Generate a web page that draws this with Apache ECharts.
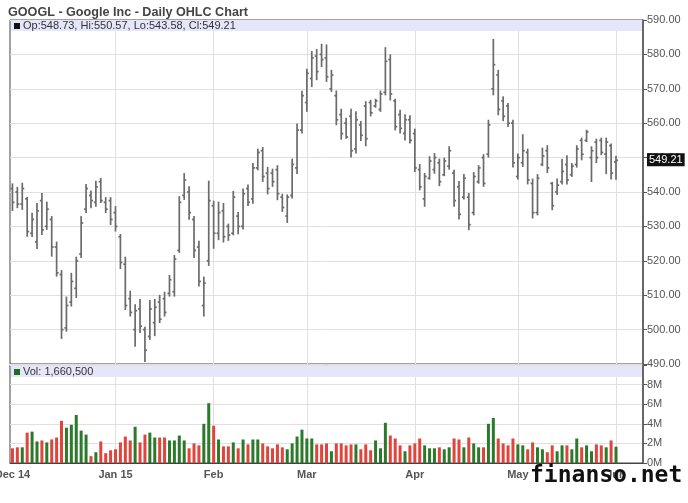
<!DOCTYPE html>
<html>
<head>
<meta charset="utf-8">
<script src="https://cdn.jsdelivr.net/npm/echarts@6/dist/echarts.min.js"></script>
<style>
  html, body { margin: 0; padding: 0; background: #fff; }
  #chart { width: 688px; height: 503px; }
</style>
</head>
<body>
<div id="chart"></div>
<script>
// trading days shown on the chart (Dec 2014 .. Jun 2015)
const decDays = [2,3,4,5,8,9,10,11,12,15,16,17,18,19,22,23,24,26,29,30,31];
const janDays = [2,5,6,7,8,9,12,13,14,15,16,20,21,22,23,26,27,28,29,30];
const febDays = [2,3,4,5,6,9,10,11,12,13,17,18,19,20,23,24,25,26,27];
const marDays = [2,3,4,5,6,9,10,11,12,13,16,17,18,19,20,23,24,25,26,27,30,31];
const aprDays = [1,2,6,7,8,9,10,13,14,15,16,17,20,21,22,23,24,27,28,29,30];
const mayDays = [1,4,5,6,7,8,11,12,13,14,15,18,19,20,21,22,26,27,28,29];
const junDays = [1];
const monthLabels = ['Dec 14', 'Jan 15', 'Feb', 'Mar', 'Apr', 'May', 'Jun'];

const opens = [
  541.0,540.0,536.5,538.0,528.0,525.5,537.5,530.0,532.0,524.0,
  516.0,500.5,508.0,512.0,522.0,535.0,539.0,537.0,543.0,537.0,
  537.5,534.0,527.0,519.0,509.0,500.0,506.0,500.0,498.0,502.0,
  508.0,509.0,510.5,511.0,523.0,539.0,540.0,532.0,524.0,507.0,
  520.0,536.0,528.0,534.5,530.0,528.0,533.0,530.0,541.0,538.0,
  547.0,552.0,545.5,545.5,546.5,538.5,533.0,539.0,547.0,558.0,
  566.0,573.0,579.5,580.0,579.0,570.0,568.0,562.5,560.0,562.0,
  552.5,559.5,565.0,566.0,565.0,564.0,569.0,578.5,566.5,562.5,
  557.0,561.0,557.0,546.5,538.0,544.0,546.5,548.5,545.0,547.5,
  545.5,541.5,538.5,538.5,534.0,543.0,550.0,551.0,570.0,574.0,
  566.5,565.0,560.0,544.5,548.5,551.5,542.5,534.0,548.0,552.0,
  542.5,540.0,543.0,548.0,545.0,548.0,555.0,555.0,550.0,554.5,
  555.0,551.0,553.5,548.73
];
const highs = [
  542.5,541.5,542.7,538.6,534.0,536.8,539.7,537.2,533.0,525.6,
  517.3,509.6,516.5,521.2,533.0,542.3,540.4,543.3,544.1,538.5,
  538.5,535.9,527.8,521.2,511.3,507.4,508.9,500.8,508.6,508.9,
  510.1,511.0,515.9,521.7,538.8,545.5,541.7,533.0,525.8,515.4,
  543.3,537.5,537.2,536.8,530.8,540.3,534.2,541.0,542.2,548.4,
  552.6,553.1,547.3,546.8,547.8,539.5,539.3,549.7,559.9,569.4,
  575.8,581.0,581.6,583.1,582.9,575.5,569.5,564.2,561.6,564.2,
  563.5,560.6,566.4,566.8,567.1,569.5,582.1,580.0,567.1,563.9,
  562.6,562.3,558.4,548.1,545.5,550.4,551.3,549.7,550.0,553.3,
  546.5,543.2,545.2,539.7,545.8,547.8,551.0,561.0,584.5,575.5,
  567.8,565.9,561.0,551.2,556.8,552.6,543.9,545.2,552.9,553.6,
  542.9,543.9,549.7,550.7,548.4,553.6,555.8,558.1,553.3,555.5,
  555.8,555.8,554.1,550.57
];
const lows = [
  534.5,535.3,534.8,527.0,526.9,523.4,527.5,529.0,521.2,515.4,
  497.3,499.4,506.7,509.2,520.8,533.9,535.3,535.7,536.8,533.9,
  530.4,528.5,517.6,505.7,503.8,495.0,499.0,490.6,497.0,498.1,
  501.9,503.8,509.6,509.6,522.3,537.7,531.9,520.8,512.5,503.8,
  518.5,523.5,526.0,525.3,525.8,527.4,527.7,529.1,535.9,536.6,
  546.3,542.9,539.3,541.5,537.6,534.2,531.0,538.1,545.2,557.0,
  563.3,570.5,572.5,576.3,572.0,569.1,559.4,555.2,555.5,550.0,
  551.2,554.8,553.3,562.0,564.5,563.3,568.1,566.6,557.9,557.0,
  555.0,554.1,545.8,540.5,535.7,543.6,545.3,541.7,544.6,546.5,
  535.7,532.0,537.8,528.9,533.2,542.4,541.5,550.0,568.1,562.3,
  560.6,558.9,547.1,543.6,547.3,542.2,532.3,533.2,547.5,545.5,
  534.7,539.1,542.2,542.2,544.4,547.1,549.2,554.5,542.9,548.4,
  550.7,545.2,543.6,543.58
];
const closes = [
  537.0,536.5,541.0,528.5,532.0,534.5,529.0,535.0,524.0,516.5,
  500.0,507.0,514.0,520.0,531.0,541.0,537.5,541.5,537.5,535.0,
  532.0,530.0,519.5,507.0,505.0,505.5,501.0,494.0,506.0,506.5,
  503.0,505.0,514.5,520.5,537.0,543.5,534.0,523.0,514.0,513.5,
  537.5,528.0,534.0,527.0,527.5,538.5,530.0,539.5,537.0,547.0,
  551.5,544.5,541.0,543.0,539.5,535.5,538.5,548.0,558.0,568.0,
  574.5,579.0,575.0,578.5,573.5,574.0,561.0,557.0,556.0,552.0,
  561.0,556.5,555.5,563.0,566.5,568.5,578.0,568.5,559.0,558.5,
  561.0,555.0,547.0,541.5,544.5,549.0,550.0,543.0,549.0,552.0,
  537.5,533.5,544.0,530.5,544.5,547.0,542.5,559.5,577.0,564.0,
  562.0,560.0,548.5,550.0,552.0,543.5,534.0,544.0,550.5,547.0,
  536.0,542.0,546.0,543.5,547.5,552.5,551.0,557.5,552.0,550.0,
  551.5,554.5,545.5,549.21
];
// volume in millions of shares
const volumes = [
  1.5,1.6,1.6,3.1,3.2,2.2,2.3,2.1,2.4,2.6,
  4.3,3.6,3.9,4.9,3.3,2.9,0.7,1.1,2.2,1.0,
  1.3,1.4,2.1,2.7,2.3,3.7,2.1,2.9,3.1,2.6,
  2.6,2.6,2.3,2.3,2.8,2.3,1.5,2.0,1.8,4.0,
  6.1,3.8,2.4,1.7,1.7,2.1,1.5,2.4,1.9,2.4,
  2.4,2.0,1.7,1.5,1.9,1.6,1.4,2.0,2.7,3.4,
  2.5,2.5,1.9,1.9,2.0,1.2,2.0,2.0,1.8,1.9,
  1.9,1.4,1.9,1.3,2.3,1.5,4.1,2.8,2.5,1.8,
  1.2,1.8,2.0,2.5,1.8,1.5,1.5,1.6,1.4,1.6,
  2.5,2.4,1.6,2.6,2.0,1.6,1.6,4.0,4.6,2.5,
  2.0,1.8,2.5,1.9,1.8,1.4,2.1,1.6,1.4,1.1,
  1.8,1.2,1.8,1.8,1.4,2.5,1.6,1.8,1.2,1.9,
  1.8,1.6,2.3,1.6605
];

// build the category list, remember where each month starts
const months = [
  [2014, 12, decDays], [2015, 1, janDays], [2015, 2, febDays], [2015, 3, marDays],
  [2015, 4, aprDays], [2015, 5, mayDays], [2015, 6, junDays]
];
const dates = [];
const monthStart = {};
months.forEach((m, k) => {
  monthStart[dates.length] = monthLabels[k];
  m[2].forEach(d => dates.push(m[0] + '-' + String(m[1]).padStart(2, '0') + '-' + String(d).padStart(2, '0')));
});
// empty room on the right of the last bar
const categories = dates.concat(['', '', '', '', '']);

const ohlcData = dates.map((d, i) => [i, opens[i], highs[i], lows[i], closes[i]]);
const UP = '#2a7a2a', DOWN = '#e2443c';
const volData = volumes.map((v, i) => ({
  value: v,
  itemStyle: { color: closes[i] >= opens[i] ? UP : DOWN }
}));

const last = dates.length - 1;
const fmt2 = v => v.toFixed(2);

function renderOhlc(params, api) {
  const i = api.value(0);
  const hi = api.coord([i, api.value(2)]);
  const lo = api.coord([i, api.value(3)]);
  const op = api.coord([i, api.value(1)]);
  const cl = api.coord([i, api.value(4)]);
  const style = { stroke: '#6b6b6b', lineWidth: 1.7 };
  return {
    type: 'group',
    children: [
      { type: 'line', shape: { x1: hi[0], y1: hi[1], x2: lo[0], y2: lo[1] }, style: style },
      { type: 'line', shape: { x1: op[0] - 2, y1: op[1], x2: op[0], y2: op[1] }, style: style },
      { type: 'line', shape: { x1: cl[0], y1: cl[1], x2: cl[0] + 2, y2: cl[1] }, style: style }
    ]
  };
}

const labelFont = { color: '#555', fontSize: 11, fontFamily: 'Liberation Sans' };
const isMonthStart = idx => monthStart[idx] !== undefined;
// the first month line sits on the left axis, so skip it
const isGridLine = idx => idx > 0 && isMonthStart(idx);

function xAxisFor(gridIndex, showLabels) {
  return {
    type: 'category',
    gridIndex: gridIndex,
    data: categories,
    boundaryGap: true,
    axisLine: { show: showLabels, lineStyle: { color: '#444' } },
    axisTick: { show: false },
    axisLabel: {
      show: showLabels,
      interval: isMonthStart,
      formatter: (v, idx) => monthStart[idx] || '',
      color: '#555', fontSize: 11, fontWeight: 'bold', fontFamily: 'Liberation Sans',
      margin: 6,
      alignMinLabel: 'center'
    },
    splitLine: {
      show: true,
      interval: isGridLine,
      alignWithLabel: true,
      lineStyle: { color: '#e0e0e0', width: 1 }
    }
  };
}

const chart = echarts.init(document.getElementById('chart'));

const option = {
  backgroundColor: '#fff',
  animation: false,
  title: {
    text: 'GOOGL - Google Inc - Daily OHLC Chart',
    left: 3, top: 1,
    textStyle: { color: '#444', fontSize: 12.6, fontWeight: 'bold', fontFamily: 'Liberation Sans' }
  },
  grid: [
    { left: 10, right: 45, top: 20, height: 344, show: true, borderColor: '#444', borderWidth: 1, outerBoundsMode: 'none' },
    { left: 10, right: 45, top: 365, height: 98, show: true, borderColor: '#444', borderWidth: 1, outerBoundsMode: 'none' }
  ],
  xAxis: [xAxisFor(0, false), xAxisFor(1, true)],
  yAxis: [
    {
      type: 'value', gridIndex: 0, position: 'right',
      min: 490, max: 590, interval: 10,
      axisLine: { show: true, lineStyle: { color: '#555', width: 1.5 } },
      axisTick: { show: true, length: 4, lineStyle: { color: '#555' } },
      axisLabel: Object.assign({ formatter: fmt2, margin: 4 }, labelFont),
      splitLine: { lineStyle: { color: '#e0e0e0' } }
    },
    {
      type: 'value', gridIndex: 1, position: 'right',
      min: 0, max: 10, interval: 2,
      axisLine: { show: true, lineStyle: { color: '#555', width: 1.5 } },
      axisTick: { show: true, length: 4, lineStyle: { color: '#555' } },
      axisLabel: Object.assign({ formatter: v => (v >= 10 ? '' : v + 'M'), margin: 4 }, labelFont),
      splitLine: { lineStyle: { color: '#e0e0e0' } }
    }
  ],
  series: [
    {
      type: 'custom',
      name: 'GOOGL',
      xAxisIndex: 0, yAxisIndex: 0,
      renderItem: renderOhlc,
      encode: { x: 0, y: [1, 2, 3, 4] },
      data: ohlcData,
      z: 3
    },
    {
      type: 'bar',
      name: 'Vol',
      xAxisIndex: 1, yAxisIndex: 1,
      barWidth: 3,
      data: volData,
      z: 3
    }
  ],
  graphic: [
    // header bands
    { type: 'rect', left: 11, top: 20, z: 1, shape: { width: 631, height: 11 }, style: { fill: '#e6e6fa' } },
    { type: 'rect', left: 11, top: 366, z: 1, shape: { width: 631, height: 11 }, style: { fill: '#e6e6fa' } },
    { type: 'rect', left: 14, top: 23, z: 10, shape: { width: 6, height: 6 }, style: { fill: '#111' } },
    {
      type: 'text', left: 23, top: 20, z: 10,
      style: {
        text: 'Op:' + fmt2(opens[last]) + ', Hi:' + fmt2(highs[last]) + ', Lo:' + fmt2(lows[last]) + ', Cl:' + fmt2(closes[last]),
        fill: '#333', fontSize: 11, fontFamily: 'Liberation Sans'
      }
    },
    { type: 'rect', left: 14, top: 369, z: 10, shape: { width: 6, height: 6 }, style: { fill: '#1f6e1f' } },
    {
      type: 'text', left: 23, top: 366, z: 10,
      style: {
        text: 'Vol: ' + Math.round(volumes[last] * 1e6).toLocaleString('en-US'),
        fill: '#333', fontSize: 11, fontFamily: 'Liberation Sans'
      }
    },
    // watermark
    {
      type: 'text', left: 530, top: 465, z: 20,
      style: {
        text: 'finanso.net', fill: '#111', fontSize: 23, fontWeight: 'bold',
        fontFamily: 'DejaVu Sans Mono'
      }
    }
  ]
};

chart.setOption(option);

// last price tag on the right axis
const tagY = chart.convertToPixel({ yAxisIndex: 0 }, closes[last]);
option.graphic.push({
  type: 'text', left: 647, top: tagY - 7, z: 20,
  style: {
    text: fmt2(closes[last]), fill: '#fff', backgroundColor: '#111',
    padding: [1, 2], fontSize: 11, fontFamily: 'Liberation Sans'
  }
});
chart.setOption(option);
</script>
</body>
</html>
